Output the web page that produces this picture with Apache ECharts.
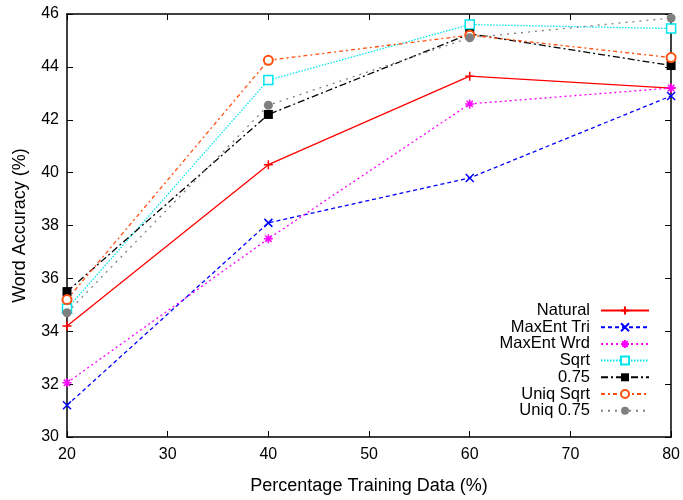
<!DOCTYPE html>
<html>
<head>
<meta charset="UTF-8">
<script src="https://cdn.jsdelivr.net/npm/echarts@6/dist/echarts.min.js"></script>
<style>
  html, body { margin: 0; padding: 0; background: #fff; }
  #main { width: 683px; height: 500px; }
</style>
</head>
<body>
<div id="main"></div>
<script>
// percentage of training data
var xVals = [20, 40, 60, 80];

// word accuracy (%) per setting
var natural    = [34.2, 40.3, 43.65, 43.2];
var maxentTri  = [31.2, 38.1, 39.8, 42.9];
var maxentWrd  = [32.05, 37.5, 42.6, 43.2];
var sqrt       = [34.85, 43.5, 45.6, 45.45];
var p075       = [35.5, 42.2, 45.25, 44.05];
var uniqSqrt   = [35.2, 44.25, 45.2, 44.35];
var uniq075    = [34.7, 42.55, 45.1, 45.85];

function pairs(ys) {
  return xVals.map(function (x, i) { return [x, ys[i]]; });
}

var font = 'Liberation Sans, Arial, sans-serif';

function mk(name, ys, color, dash, symbol, size, itemStyle) {
  return {
    name: name,
    type: 'line',
    data: pairs(ys),
    symbol: symbol,
    symbolSize: size,
    showAllSymbol: true,
    lineStyle: { color: color, width: 1.3, type: dash },
    itemStyle: itemStyle,
    emphasis: { disabled: true },
    z: 3
  };
}

var series = [
  mk('Natural', natural, '#ff0000', 'solid',
     'path://M5,0L5,10M0,5L10,5', 9,
     { color: '#ff0000', borderColor: '#ff0000', borderWidth: 1.5 }),
  mk('MaxEnt Tri', maxentTri, '#0000ff', [4, 3],
     'path://M0,0L10,10M10,0L0,10', 8,
     { color: '#0000ff', borderColor: '#0000ff', borderWidth: 1.5 }),
  mk('MaxEnt Wrd', maxentWrd, '#ff00ff', [2, 3],
     'path://M5,0L5,10M0,5L10,5M1.5,1.5L8.5,8.5M8.5,1.5L1.5,8.5', 9,
     { color: '#ff00ff', borderColor: '#ff00ff', borderWidth: 1.5 }),
  mk('Sqrt', sqrt, '#00e5ee', [1.5, 1.5], 'rect', 9,
     { color: '#ffffff', borderColor: '#00e5ee', borderWidth: 1.5 }),
  mk('0.75', p075, '#000000', [7, 3, 2, 3], 'rect', 9,
     { color: '#000000', borderColor: '#000000', borderWidth: 0 }),
  mk('Uniq Sqrt', uniqSqrt, '#ff5010', [4, 3, 2, 3], 'emptyCircle', 9,
     { color: '#ff5010', borderColor: '#ff5010', borderWidth: 1.8 }),
  mk('Uniq 0.75', uniq075, '#808080', [2, 5], 'circle', 9,
     { color: '#808080', borderColor: '#808080', borderWidth: 0 })
];

var chart = echarts.init(document.getElementById('main'), null, { renderer: 'canvas' });

var axisCommon = {
  axisLine: { show: true, onZero: false, lineStyle: { color: '#000', width: 1.5 } },
  axisTick: { show: true, inside: true, length: 6, lineStyle: { color: '#000', width: 1 } },
  splitLine: { show: false }
};

chart.setOption({
  animation: false,
  backgroundColor: '#fff',
  textStyle: { fontFamily: font },
  grid: { left: 67, right: 7, top: 14, bottom: 63, containLabel: false },
  legend: {
    orient: 'vertical',
    right: 33,
    top: 302,
    align: 'right',
    itemWidth: 48,
    itemHeight: 10,
    itemGap: -0.3,
    padding: 0,
    data: series.map(function (s) { return s.name; }),
    textStyle: { fontFamily: font, fontSize: 16.5, lineHeight: 14, color: '#000', width: 120, align: 'right', padding: [0, 6, 0, 0] },
    selectedMode: false
  },
  xAxis: [
    Object.assign({
      type: 'value', min: 20, max: 80, interval: 10,
      name: 'Percentage Training Data (%)',
      nameLocation: 'middle', nameGap: 40,
      nameTextStyle: { fontSize: 18, color: '#000', fontFamily: font },
      axisLabel: { fontSize: 16, color: '#000', margin: 10, fontFamily: font }
    }, axisCommon),
    Object.assign({
      type: 'value', min: 20, max: 80, interval: 10, position: 'top',
      axisLabel: { show: false }
    }, axisCommon)
  ],
  yAxis: [
    Object.assign({
      type: 'value', min: 30, max: 46, interval: 2,
      name: 'Word Accuracy (%)',
      nameLocation: 'middle', nameGap: 38,
      nameTextStyle: { fontSize: 18, color: '#000', fontFamily: font },
      axisLabel: { fontSize: 16, color: '#000', margin: 8, fontFamily: font }
    }, axisCommon),
    Object.assign({
      type: 'value', min: 30, max: 46, interval: 2, position: 'right',
      axisLabel: { show: false }
    }, axisCommon)
  ],
  series: series
});
</script>
</body>
</html>
